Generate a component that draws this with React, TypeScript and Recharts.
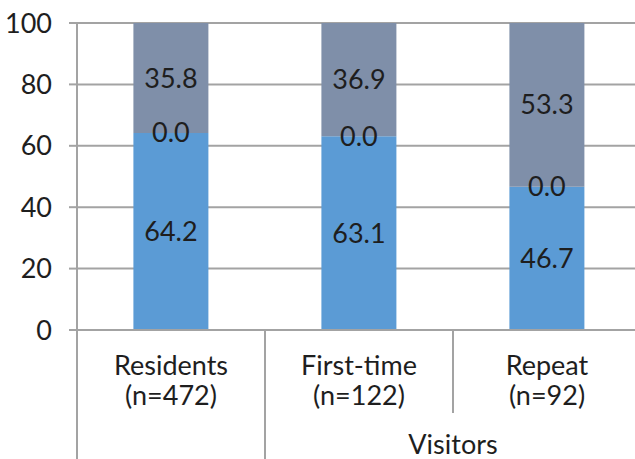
import React from 'react';
import { Bar, BarChart, CartesianGrid, LabelList, XAxis, YAxis } from 'recharts';

const categories = ['Residents', 'First-time', 'Repeat'];
const sampleSizes = ['(n=472)', '(n=122)', '(n=92)'];
const groupLabel = 'Visitors';

const lowerValues = [64.2, 63.1, 46.7];
const middleValues = [0.0, 0.0, 0.0];
const upperValues = [35.8, 36.9, 53.3];

const yTicks = [0, 20, 40, 60, 80, 100];

const data = categories.map((name, i) => ({
  name,
  n: sampleSizes[i],
  lower: lowerValues[i],
  middle: middleValues[i],
  upper: upperValues[i],
}));

const FONT = 'Lato, "DejaVu Sans", sans-serif';
const FS = 27;
const TEXT = '#1e1e1e';
const LINE = '#a3a3a3';

function CategoryTick(props: any) {
  const { x, y, payload, index } = props;
  const half = payload?.offset ?? 94;
  const left = x - half;
  const row = data[index];
  return (
    <g>
      <line x1={left} y1={y} x2={left} y2={y + (index < 2 ? 130 : 83)} stroke={LINE} strokeWidth={2} />
      {index === data.length - 1 && (
        <line x1={x + half} y1={y} x2={x + half} y2={y + 130} stroke={LINE} strokeWidth={2} />
      )}
      <text x={x} y={y + 45} textAnchor="middle" fontSize={FS} fontFamily={FONT} fill={TEXT}>
        {row.name}
      </text>
      <text x={x} y={y + 75} textAnchor="middle" fontSize={FS} fontFamily={FONT} fill={TEXT}>
        {row.n}
      </text>
      {index === 2 && (
        <text x={left} y={y + 124} textAnchor="middle" fontSize={FS} fontFamily={FONT} fill={TEXT}>
          {groupLabel}
        </text>
      )}
    </g>
  );
}

const fmt = (v: any) => Number(v).toFixed(1);

// zero-height middle segment: put its label on the top edge of the lower bar
function EdgeLabel(props: any) {
  const { x, y, width, value } = props;
  return (
    <text
      x={x + width / 2}
      y={y}
      dy="0.355em"
      textAnchor="middle"
      fontSize={FS}
      fontFamily={FONT}
      fill={TEXT}
    >
      {fmt(value)}
    </text>
  );
}

export default function App() {
  return (
    <div
      style={{
        position: 'absolute',
        left: 0,
        top: 0,
        width: 635,
        height: 459,
        overflow: 'hidden',
        background: '#ffffff',
      }}
    >
      <BarChart
        width={660}
        height={459}
        data={data}
        margin={{ top: 23, right: 19, bottom: 0, left: 0 }}
        barCategoryGap="30%"
      >
        <CartesianGrid horizontal vertical={false} stroke={LINE} strokeWidth={2} />
        <XAxis
          dataKey="name"
          height={129}
          interval={0}
          tickSize={0}
          tickMargin={0}
          tickLine={false}
          axisLine={{ stroke: LINE, strokeWidth: 2 }}
          tick={<CategoryTick />}
        />
        <YAxis
          width={77}
          domain={[0, 100]}
          ticks={yTicks}
          interval={0}
          tickSize={8}
          tickMargin={17}
          axisLine={{ stroke: LINE, strokeWidth: 2 }}
          tickLine={{ stroke: LINE, strokeWidth: 2 }}
          tick={{ fontSize: FS, fontFamily: FONT, fill: TEXT }}
        />
        <Bar dataKey="lower" stackId="a" fill="#5b9bd5" isAnimationActive={false}>
          <LabelList dataKey="lower" position="center" formatter={fmt} fontSize={FS} fontFamily={FONT} fill={TEXT} />
          <LabelList dataKey="middle" content={<EdgeLabel />} />
        </Bar>
        <Bar dataKey="middle" stackId="a" fill="#ed7d31" isAnimationActive={false} />
        <Bar dataKey="upper" stackId="a" fill="#7f8fa9" isAnimationActive={false}>
          <LabelList dataKey="upper" position="center" formatter={fmt} fontSize={FS} fontFamily={FONT} fill={TEXT} />
        </Bar>
      </BarChart>
    </div>
  );
}
